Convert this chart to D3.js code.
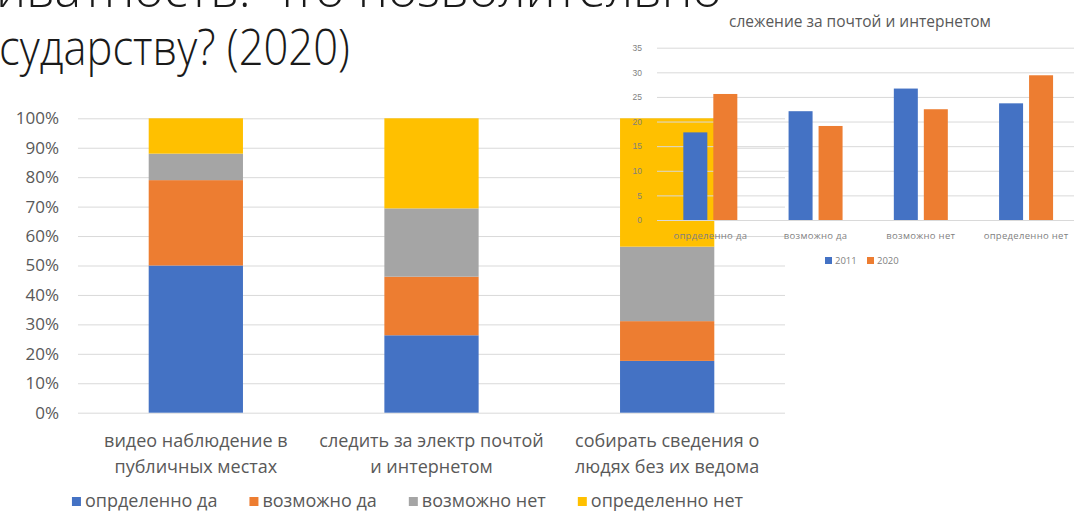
<!DOCTYPE html>
<html>
<head>
<meta charset="utf-8">
<script src="https://cdn.jsdelivr.net/npm/d3@7"></script>
<style>
  body { margin: 0; background: #fff; }
  svg { display: block; font-family: "Open Sans", "Noto Sans", sans-serif; }
  .grid line { stroke: #d9d9d9; stroke-width: 1; }
  .grid text { fill: #595959; }
</style>
</head>
<body>
<div id="chart"></div>
<script>
// main chart: share of answers per question (2020)
var questions = [
    ["видео наблюдение в", "публичных местах"],
    ["следить за электр почтой", "и интернетом"],
    ["собирать сведения о", "людях без их ведома"]
];
var answerNames = ["опрделенно да", "возможно да", "возможно нет", "определенно нет"];
var definitelyYes = [50, 26.3, 17.6];
var maybeYes = [29, 19.9, 13.5];
var maybeNo = [9, 23.2, 25.3];
var definitelyNo = [12, 30.6, 43.6];
var percentTicks = [0, 0.1, 0.2, 0.3, 0.4, 0.5, 0.6, 0.7, 0.8, 0.9, 1];

// inset chart: mail and internet tracking, 2011 vs 2020
var insetTitle = "слежение за почтой и интернетом";
var insetCategories = ["опрделенно да", "возможно да", "возможно нет", "определенно нет"];
var insetYears = ["2011", "2020"];
var values2011 = [17.8, 22.1, 26.7, 23.7];
var values2020 = [25.6, 19.1, 22.5, 29.4];
var insetTicks = [0, 5, 10, 15, 20, 25, 30, 35];

var titleLine1 = "Приватность: что позволительно";
var titleLine2 = "государству? (2020)";

var colors = ["#4472c4", "#ed7d31", "#a5a5a5", "#ffc000"];

var width = 1074, height = 512;

var svg = d3.select("#chart").append("svg")
    .attr("width", width)
    .attr("height", height);

// ---- title (cut off by the slide edge) ----
function fitLine(text, fromIndex, leftX, rightX, baseline) {
    var t = svg.append("text")
        .attr("x", 0).attr("y", 0)
        .style("font-size", "50px")
        .style("font-weight", 300)
        .style("fill", "#1a1a1a")
        .text(text);
    var node = t.node();
    var n = node.getNumberOfChars();
    var w = node.getSubStringLength(fromIndex, n - fromIndex);
    var start = node.getStartPositionOfChar(fromIndex).x;
    var sx = (rightX - leftX) / w;
    t.attr("transform", "translate(" + (leftX - sx * start) + "," + baseline + ") scale(" + sx + ",1)");
}
fitLine(titleLine1, 2, -4, 722, 7);
fitLine(titleLine2, 2, -1, 350, 65);

// ---- main stacked chart ----
var rows = questions.map(function(q, i) {
    return { q: i, a0: definitelyYes[i], a1: maybeYes[i], a2: maybeNo[i], a3: definitelyNo[i] };
});
var stack = d3.stack()
    .keys(["a0", "a1", "a2", "a3"])
    .offset(d3.stackOffsetExpand);
var series = stack(rows);

var xScale = d3.scaleBand()
    .domain(d3.range(questions.length))
    .range([78, 785])
    .paddingInner(0.6)
    .paddingOuter(0.3);

var yScale = d3.scaleLinear()
    .domain([0, 1])
    .range([412.7, 118.3]);

var yAxis = svg.append("g")
    .attr("class", "grid")
    .attr("transform", "translate(78,0)")
    .call(d3.axisLeft(yScale)
        .tickValues(percentTicks)
        .tickFormat(d3.format(".0%"))
        .tickSize(-(785 - 78))
        .tickPadding(19));
yAxis.select(".domain").remove();
yAxis.selectAll("text").style("font-size", "17px").style("font-family", "Open Sans");

svg.append("g").selectAll("g")
    .data(series)
    .join("g")
    .attr("fill", function(d, i) { return colors[i]; })
    .selectAll("rect")
    .data(function(d) { return d; })
    .join("rect")
    .attr("x", function(d) { return xScale(d.data.q); })
    .attr("width", xScale.bandwidth())
    .attr("y", function(d) { return yScale(d[1]); })
    .attr("height", function(d) { return yScale(d[0]) - yScale(d[1]); });

// category labels
var catLabels = svg.append("g").selectAll("text")
    .data(questions)
    .join("text")
    .attr("x", function(d, i) { return xScale(i) + xScale.bandwidth() / 2; })
    .attr("y", 446.7)
    .attr("text-anchor", "middle")
    .style("font-size", "18px")
    .style("fill", "#595959");
catLabels.selectAll("tspan")
    .data(function(d) { return d; })
    .join("tspan")
    .attr("x", function() { return d3.select(this.parentNode).attr("x"); })
    .attr("dy", function(d, i) { return i === 0 ? 0 : 26.5; })
    .text(function(d) { return d; });

// legend
var legend = svg.append("g");
var lx = 0;
answerNames.forEach(function(name, i) {
    var item = legend.append("g").attr("transform", "translate(" + lx + ",0)");
    item.append("rect")
        .attr("x", 0).attr("y", 497)
        .attr("width", 9).attr("height", 9)
        .attr("fill", colors[i]);
    var t = item.append("text")
        .attr("x", 13).attr("y", 507)
        .style("font-size", "18px")
        .style("fill", "#595959")
        .text(name);
    lx += 13 + t.node().getComputedTextLength() + 32;
});
var legendWidth = lx - 32;
legend.attr("transform", "translate(" + (407.5 - legendWidth / 2) + ",0)");

// ---- inset grouped chart ----
var insetX0 = d3.scaleBand()
    .domain(d3.range(insetCategories.length))
    .range([657.7, 1078.7])
    .paddingInner(0.487)
    .paddingOuter(0.2435);

var insetX1 = d3.scaleBand()
    .domain(insetYears)
    .range([0, insetX0.bandwidth()])
    .paddingInner(0.2);

var insetY = d3.scaleLinear()
    .domain([0, 35])
    .range([220, 47.7]);

var insetAxis = svg.append("g")
    .attr("class", "grid")
    .attr("transform", "translate(657,0)")
    .call(d3.axisLeft(insetY)
        .tickValues(insetTicks)
        .tickSize(-(1078.7 - 657))
        .tickPadding(15));
insetAxis.select(".domain").remove();
insetAxis.selectAll("text").style("font-size", "8.5px").style("fill", "#7f7f7f");

var insetRows = insetCategories.map(function(c, i) {
    return [ { year: "2011", v: values2011[i] }, { year: "2020", v: values2020[i] } ];
});

svg.append("g").selectAll("g")
    .data(insetRows)
    .join("g")
    .attr("transform", function(d, i) { return "translate(" + insetX0(i) + ",0)"; })
    .selectAll("rect")
    .data(function(d) { return d; })
    .join("rect")
    .attr("x", function(d) { return insetX1(d.year); })
    .attr("width", insetX1.bandwidth())
    .attr("y", function(d) { return insetY(d.v); })
    .attr("height", function(d) { return insetY(0) - insetY(d.v); })
    .attr("fill", function(d, i) { return colors[i]; });

svg.append("g").selectAll("text")
    .data(insetCategories)
    .join("text")
    .attr("x", function(d, i) { return insetX0(i) + insetX0.bandwidth() / 2; })
    .attr("y", 238.5)
    .attr("text-anchor", "middle")
    .style("font-size", "9.5px")
    .style("letter-spacing", "0.3px")
    .style("fill", "#7f7f7f")
    .text(function(d) { return d; });

svg.append("text")
    .attr("x", 860)
    .attr("y", 26.5)
    .attr("text-anchor", "middle")
    .style("font-size", "15.5px")
    .style("fill", "#595959")
    .text(insetTitle);

// inset legend
var insetLegend = svg.append("g");
insetYears.forEach(function(year, i) {
    insetLegend.append("rect")
        .attr("x", 825 + i * 42).attr("y", 257)
        .attr("width", 7).attr("height", 7)
        .attr("fill", colors[i]);
    insetLegend.append("text")
        .attr("x", 835 + i * 42).attr("y", 264)
        .style("font-size", "9.5px")
        .style("fill", "#7f7f7f")
        .text(year);
});
</script>
</body>
</html>
